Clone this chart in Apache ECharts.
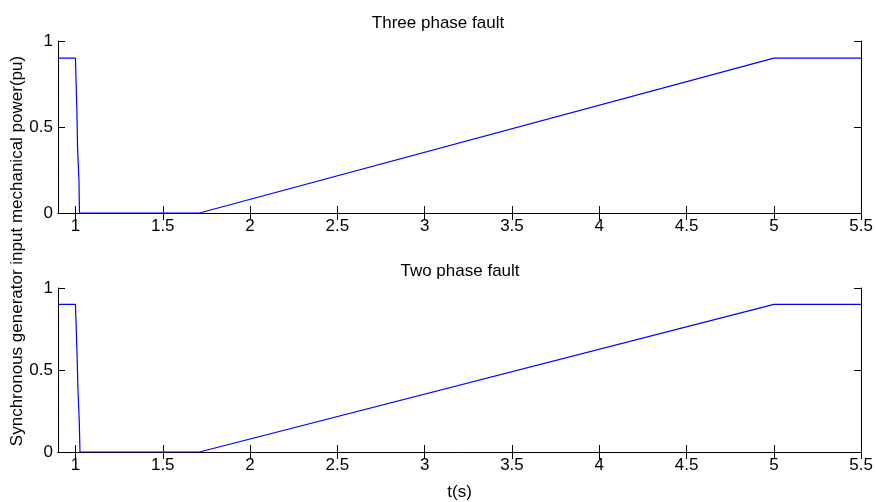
<!DOCTYPE html>
<html>
<head>
<meta charset="utf-8">
<script src="https://cdn.jsdelivr.net/npm/echarts@6/dist/echarts.min.js"></script>
<style>
  html, body { margin: 0; padding: 0; background: #fff; }
  #chart { width: 876px; height: 502px; }
</style>
</head>
<body>
<div id="chart"></div>
<script>
// Mechanical input power of the synchronous generator (pu) versus time (s)
const tThree = [0.9, 1.0, 1.008, 1.012, 1.02, 1.023, 1.71, 5.0, 5.5];
const pThree = [0.9, 0.9, 0.6, 0.38, 0.19, 0, 0, 0.9, 0.9];
const tTwo = [0.9, 1.0, 1.009, 1.014, 1.022, 1.026, 1.71, 5.0, 5.5];
const pTwo = [0.9, 0.9, 0.6, 0.39, 0.18, 0, 0, 0.9, 0.9];

const xTicks = [1, 1.5, 2, 2.5, 3, 3.5, 4, 4.5, 5, 5.5];
const yTicks = [0, 0.5, 1];
const titles = ['Three phase fault', 'Two phase fault'];
const xName = 't(s)';
const yName = 'Synchronous generator input mechanical power(pu)';

const FONT = '"Liberation Sans", Arial, sans-serif';
const pairs = (t, p) => t.map((v, i) => [v, p[i]]);

const grids = [
  { left: 58, right: 13, top: 41, height: 172 },
  { left: 58, right: 13, top: 288, height: 173 }
];

const xAxes = [];
const yAxes = [];
grids.forEach((g, i) => {
  // bottom axis with labels
  xAxes.push({
    type: 'value', gridIndex: i, min: 0.9, max: 5.5, position: 'bottom',
    axisLine: { lineStyle: { color: '#000', width: 1 } },
    axisTick: { inside: true, length: 7, customValues: xTicks, lineStyle: { color: '#000' } },
    axisLabel: { customValues: xTicks, color: '#000', fontSize: 17, fontFamily: FONT, margin: 5 },
    splitLine: { show: false },
    name: i === 1 ? xName : '', nameLocation: 'middle', nameGap: 32,
    nameTextStyle: { color: '#000', fontSize: 17, fontFamily: FONT }
  });
  // top mirror axis (box and ticks only)
  xAxes.push({
    type: 'value', gridIndex: i, min: 0.9, max: 5.5, position: 'top',
    axisLine: { lineStyle: { color: '#000', width: 1 } },
    axisTick: { inside: true, length: 7, customValues: xTicks, lineStyle: { color: '#000' } },
    axisLabel: { show: false }, splitLine: { show: false }
  });
  yAxes.push({
    type: 'value', gridIndex: i, min: 0, max: 1, interval: 0.5, position: 'left',
    axisLine: { show: true, lineStyle: { color: '#000', width: 1 } },
    axisTick: { show: true, inside: true, length: 7, lineStyle: { color: '#000' } },
    axisLabel: { color: '#000', fontSize: 17, fontFamily: FONT, margin: 5 },
    splitLine: { show: false }
  });
  yAxes.push({
    type: 'value', gridIndex: i, min: 0, max: 1, interval: 0.5, position: 'right',
    axisLine: { show: true, lineStyle: { color: '#000', width: 1 } },
    axisTick: { show: true, inside: true, length: 7, lineStyle: { color: '#000' } },
    axisLabel: { show: false }, splitLine: { show: false }
  });
});

const chart = echarts.init(document.getElementById('chart'), null, { renderer: 'canvas' });
chart.setOption({
  animation: false,
  backgroundColor: '#fff',
  grid: grids,
  xAxis: xAxes,
  yAxis: yAxes,
  graphic: [
    { type: 'text', left: 'center', x: 0, style: { text: titles[0], x: 460, y: 23, align: 'center', verticalAlign: 'middle', fill: '#000', fontSize: 17, fontFamily: FONT } },
    { type: 'text', style: { text: titles[1], x: 460, y: 271, align: 'center', verticalAlign: 'middle', fill: '#000', fontSize: 17, fontFamily: FONT } },
    { type: 'text', x: 17, y: 251, rotation: Math.PI / 2, style: { text: yName, x: 0, y: 0, align: 'center', verticalAlign: 'middle', fill: '#000', fontSize: 17, fontFamily: FONT } }
  ],
  series: [
    { type: 'line', xAxisIndex: 0, yAxisIndex: 0, data: pairs(tThree, pThree), showSymbol: false, symbol: 'none',
      lineStyle: { color: '#0000ff', width: 1.2 } },
    { type: 'line', xAxisIndex: 2, yAxisIndex: 2, data: pairs(tTwo, pTwo), showSymbol: false, symbol: 'none',
      lineStyle: { color: '#0000ff', width: 1.2 } }
  ]
});
</script>
</body>
</html>
